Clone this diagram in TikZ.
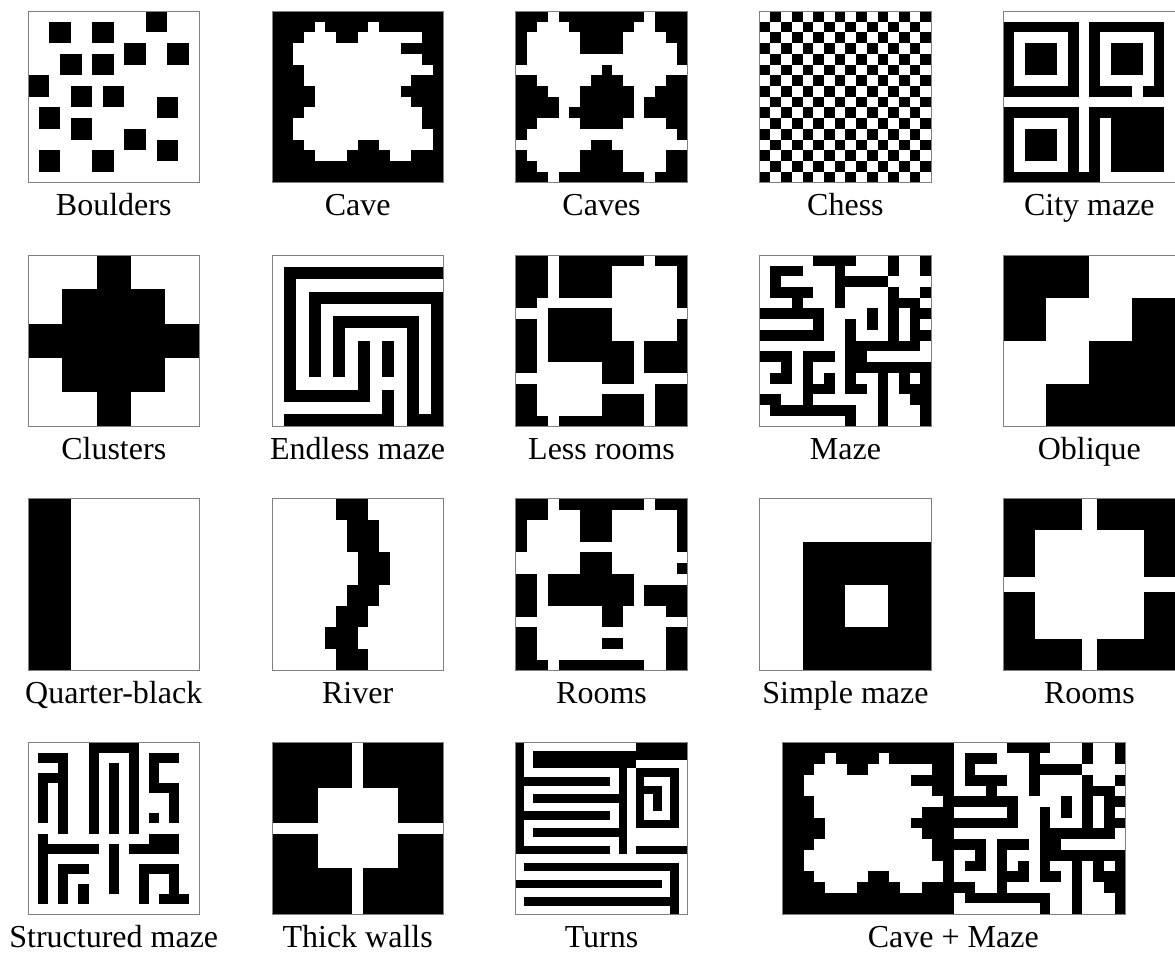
\documentclass[tikz,border=0pt]{standalone}
\usepackage{fontspec}
\setmainfont{Liberation Serif}
\usepackage{tikz}

\tikzset{
  cells/.style={x=171.5pt/#1, y=-171.5pt/#1},
  tileframe/.style={draw=gray, line width=0.7pt},
  tilename/.style={font=\fontsize{32}{38}\selectfont, anchor=base},
}

% white runs of the cave, black runs of the maze (used twice)
\newcommand{\caveruns}{4/1/1,9/1/1,3/2/3,8/2/6,2/3/10,2/4/12,3/5/12,3/6/10,4/7/8,4/8/9,3/9/11,2/10/12,2/11/13,3/12/5,10/12/5,4/13/3,11/13/2}
\newcommand{\mazecells}{5/0/4/1,12/0/1/2,15/0/1/2,1/1/3/1,1/2/1/1,1/3/4/1,3/4/1/1,7/1/1/4,7/2/5/1,
    12/3/1/5,13/4/2/1,15/3/1/1,14/5/1/4,15/5/1/1,15/7/1/1,0/5/6/1,5/6/1/1,0/7/6/1,10/5/1/2,
    8/6/1/4,8/8/6/1,9/9/1/1,8/10/8/1,0/9/3/1,2/10/1/2,1/11/2/1,4/9/3/1,4/10/1/4,6/11/1/2,5/12/2/1,
    0/13/2/1,1/14/8/1,8/14/1/2,8/11/1/2,9/12/1/1,11/11/1/5,13/11/1/2,14/12/1/2,15/11/1/5}

\begin{document}
\begin{tikzpicture}[x=1pt, y=-1pt]
    \useasboundingbox (0,0) rectangle (1175,956);

    % Boulders
    \begin{scope}[shift={(28pt,-11pt)}, cells=16]
        \foreach \c/\r in {2/1,6/1,11/0,9/3,13/3,3/4,6/4,0/6,4/7,7/7,12/8,1/9,4/10,9/11,12/12,1/13,6/13}
            \fill (\c,\r) rectangle ++(2,2);
        \draw[tileframe] (0,0) rectangle (16,16);
    \end{scope}
    \node[tilename] (boulders) at (113.75,215.5) {Boulders};

    % Cave
    \begin{scope}[shift={(271.9pt,-11pt)}, cells=16]
        \fill (0,0) rectangle (16,16);
        \foreach \c/\r/\w in \caveruns
            \fill[white] (\c,\r) rectangle ++(\w,1);
        \draw[tileframe] (0,0) rectangle (16,16);
    \end{scope}
    \node[tilename] (cave) at (357.65,215.5) {Cave};

    % Caves
    \begin{scope}[shift={(515.8pt,-11pt)}, cells=16]
        \fill (0,0) rectangle (16,16);
        \foreach \c/\r/\w in {3/0/1,12/0/1,2/1/3,11/1/2,1/2/5,10/2/4,1/3/5,10/3/5,1/4/14,0/5/8,9/5/7,2/6/5,10/6/4,3/7/3,11/7/2,4/8/2,11/8/1,4/9/1,11/9/1,2/10/4,10/10/4,1/11/14,0/12/7,9/12/7,1/13/5,10/13/4,2/14/4,10/14/4,3/15/1,12/15/1}
            \fill[white] (\c,\r) rectangle ++(\w,1);
        \draw[tileframe] (0,0) rectangle (16,16);
    \end{scope}
    \node[tilename] (caves) at (601.55,215.5) {Caves};

    % Chess
    \begin{scope}[shift={(759.7pt,-11pt)}, cells=16]
        \foreach \r in {0,...,15}
            \foreach \c in {1,3,...,15} {
                \pgfmathtruncatemacro\cc{\c-mod(\r,2)}
                \fill (\cc,\r) rectangle ++(1,1);
            }
        \draw[tileframe] (0,0) rectangle (16,16);
    \end{scope}
    \node[tilename] (chess) at (845.45,215.5) {Chess};

    % City maze
    \begin{scope}[shift={(1003.6pt,-11pt)}, cells=16]
        \foreach \c/\r/\w/\h in {0/1/7/1,8/1/7/1,0/2/1/5,6/2/1/5,8/2/1/5,14/2/1/5,2/3/3/3,10/3/3/3,0/7/7/1,8/7/4/1,13/7/2/1,
                                 0/9/7/1,8/9/7/1,0/10/1/5,6/10/1/5,8/10/1/5,10/10/5/5,2/11/3/3,0/15/9/1}
            \fill (\c,\r) rectangle ++(\w,\h);
        \draw[tileframe] (0,0) rectangle (16,16);
    \end{scope}
    \node[tilename] (citymaze) at (1089.35,215.5) {City maze};

    % Clusters
    \begin{scope}[shift={(28pt,-254.9pt)}, cells=5]
        \foreach \c/\r/\w/\h in {2/0/1/5,1/1/3/3,0/2/5/1}
            \fill (\c,\r) rectangle ++(\w,\h);
        \draw[tileframe] (0,0) rectangle (5,5);
    \end{scope}
    \node[tilename] (clusters) at (113.75,459.4) {Clusters};

    % Endless maze
    \begin{scope}[shift={(271.9pt,-254.9pt)}, cells=14]
        \foreach \c/\r/\w/\h in {1/1/13/1,1/2/1/9,1/11/7/1,3/3/11/1,3/4/1/6,13/4/1/9,5/5/7/1,5/6/1/4,11/6/1/8,
                                 7/7/1/4,9/7/1/3,9/11/1/2,1/13/9/1,12/13/2/1}
            \fill (\c,\r) rectangle ++(\w,\h);
        \draw[tileframe] (0,0) rectangle (14,14);
    \end{scope}
    \node[tilename] (endless) at (357.65,459.4) {Endless maze};

    % Less rooms
    \begin{scope}[shift={(515.8pt,-254.9pt)}, cells=16]
        \foreach \c/\r/\w/\h in {0/0/3/4,0/4/2/1,4/0/5/4,9/0/3/1,13/0/3/1,15/1/1/4,3/5/6/3,3/8/8/2,8/10/3/2,
                                 0/6/2/5,15/6/1/2,12/8/4/3,0/12/2/3,0/15/3/1,8/13/4/2,4/15/8/1,13/12/3/4}
            \fill (\c,\r) rectangle ++(\w,\h);
        \draw[tileframe] (0,0) rectangle (16,16);
    \end{scope}
    \node[tilename] (lessrooms) at (601.55,459.4) {Less rooms};

    % Maze
    \begin{scope}[shift={(759.7pt,-254.9pt)}, cells=16]
        \foreach \c/\r/\w/\h in \mazecells
            \fill (\c,\r) rectangle ++(\w,\h);
        \draw[tileframe] (0,0) rectangle (16,16);
    \end{scope}
    \node[tilename] (maze) at (845.45,459.4) {Maze};

    % Oblique
    \begin{scope}[shift={(1003.6pt,-254.9pt)}, cells=4]
        \foreach \c/\r/\w/\h in {0/0/2/1,0/1/1/1,3/1/1/1,2/2/2/1,1/3/3/1}
            \fill (\c,\r) rectangle ++(\w,\h);
        \draw[tileframe] (0,0) rectangle (4,4);
    \end{scope}
    \node[tilename] (oblique) at (1089.35,459.4) {Oblique};

    % Quarter-black
    \begin{scope}[shift={(28pt,-498.8pt)}, cells=4]
        \fill (0,0) rectangle (1,4);
        \draw[tileframe] (0,0) rectangle (4,4);
    \end{scope}
    \node[tilename] (quarter) at (113.75,703.3) {Quarter-black};

    % River
    \begin{scope}[shift={(271.9pt,-498.8pt)}, cells=16]
        \foreach \c/\r/\h in {6/0/2,7/2/3,8/5/3,7/8/2,6/10/2,5/12/2,6/14/2}
            \fill (\c,\r) rectangle ++(3,\h);
        \draw[tileframe] (0,0) rectangle (16,16);
    \end{scope}
    \node[tilename] (river) at (357.65,703.3) {River};

    % Rooms
    \begin{scope}[shift={(515.8pt,-498.8pt)}, cells=16]
        \foreach \c/\r/\w/\h in {0/0/3/2,0/2/1/3,4/0/8/1,6/1/3/3,13/0/3/1,15/1/1/4,6/5/3/2,3/7/8/3,8/10/2/2,
                                 15/6/1/1,12/8/4/2,14/10/2/1,0/7/2/4,0/12/2/3,0/15/3/1,8/13/2/1,4/15/8/1,14/12/2/4}
            \fill (\c,\r) rectangle ++(\w,\h);
        \draw[tileframe] (0,0) rectangle (16,16);
    \end{scope}
    \node[tilename] (rooms) at (601.55,703.3) {Rooms};

    % Simple maze
    \begin{scope}[shift={(759.7pt,-498.8pt)}, cells=4]
        \foreach \c/\r/\w/\h in {1/1/3/1,1/2/1/1,3/2/1/1,1/3/3/1}
            \fill (\c,\r) rectangle ++(\w,\h);
        \draw[tileframe] (0,0) rectangle (4,4);
    \end{scope}
    \node[tilename] (simplemaze) at (845.45,703.3) {Simple maze};

    % Rooms (big)
    \begin{scope}[shift={(1003.6pt,-498.8pt)}, cells=11]
        \foreach \c/\r/\w/\h in {0/0/5/2,6/0/5/2,0/2/2/3,0/6/2/3,9/2/2/3,9/6/2/3,0/9/5/2,6/9/5/2}
            \fill (\c,\r) rectangle ++(\w,\h);
        \draw[tileframe] (0,0) rectangle (11,11);
    \end{scope}
    \node[tilename] (bigrooms) at (1089.35,703.3) {Rooms};

    % Structured maze
    \begin{scope}[shift={(28pt,-742.7pt)}, cells=17]
        \foreach \c/\r/\w/\h in {6/0/5/1,1/1/3/1,3/2/1/1,1/3/3/1,1/4/1/4,3/4/1/5,6/1/1/8,8/2/1/7,10/1/1/8,
                                 12/1/3/1,12/2/1/3,12/4/3/1,14/4/1/4,12/7/1/1,1/9/1/7,3/10/1/1,12/9/3/1,
                                 2/10/5/1,8/10/1/5,10/10/5/1,3/12/3/1,3/13/1/3,11/12/3/1,11/13/1/3,
                                 14/12/1/4,5/14/1/2,13/15/3/1}
            \fill (\c,\r) rectangle ++(\w,\h);
        \draw[tileframe] (0,0) rectangle (17,17);
    \end{scope}
    \node[tilename] (structmaze) at (113.75,947.2) {Structured maze};

    % Thick walls
    \begin{scope}[shift={(271.9pt,-742.7pt)}, cells=15]
        \foreach \c/\r/\w/\h in {0/0/7/4,8/0/7/4,0/4/4/3,0/8/4/3,11/4/4/3,11/8/4/3,0/11/7/4,8/11/7/4}
            \fill (\c,\r) rectangle ++(\w,\h);
        \draw[tileframe] (0,0) rectangle (15,15);
    \end{scope}
    \node[tilename] (thickwalls) at (357.65,947.2) {Thick walls};

    % Turns
    \begin{scope}[shift={(515.8pt,-742.7pt)}, cells=20]
        \foreach \c/\r/\w/\h in {0/0/1/13,14/0/6/2,2/1/12/2,1/4/10/1,2/6/11/1,1/8/10/1,2/10/11/1,1/12/10/1,12/2/1/11,
                                 14/3/5/1,14/3/1/6,18/3/1/7,16/5/1/3,15/5/2/1,14/9/5/1,14/12/6/1,
                                 1/14/17/1,18/14/1/6,0/16/17/1,1/18/17/1}
            \fill (\c,\r) rectangle ++(\w,\h);
        \draw[tileframe] (0,0) rectangle (20,20);
    \end{scope}
    \node[tilename] (turns) at (601.55,947.2) {Turns};

    % Cave + Maze
    \begin{scope}[shift={(782.3pt,-742.7pt)}, cells=16]
        \fill (0,0) rectangle (16,16);
        \foreach \c/\r/\w in \caveruns
            \fill[white] (\c,\r) rectangle ++(\w,1);
        \begin{scope}[xshift=171.5pt]
            \foreach \c/\r/\w/\h in \mazecells
                \fill (\c,\r) rectangle ++(\w,\h);
        \end{scope}
        \draw[tileframe] (0,0) rectangle (32,16);
    \end{scope}
    \node[tilename] (cavemaze) at (953.3,947.2) {Cave + Maze};
\end{tikzpicture}
\end{document}
